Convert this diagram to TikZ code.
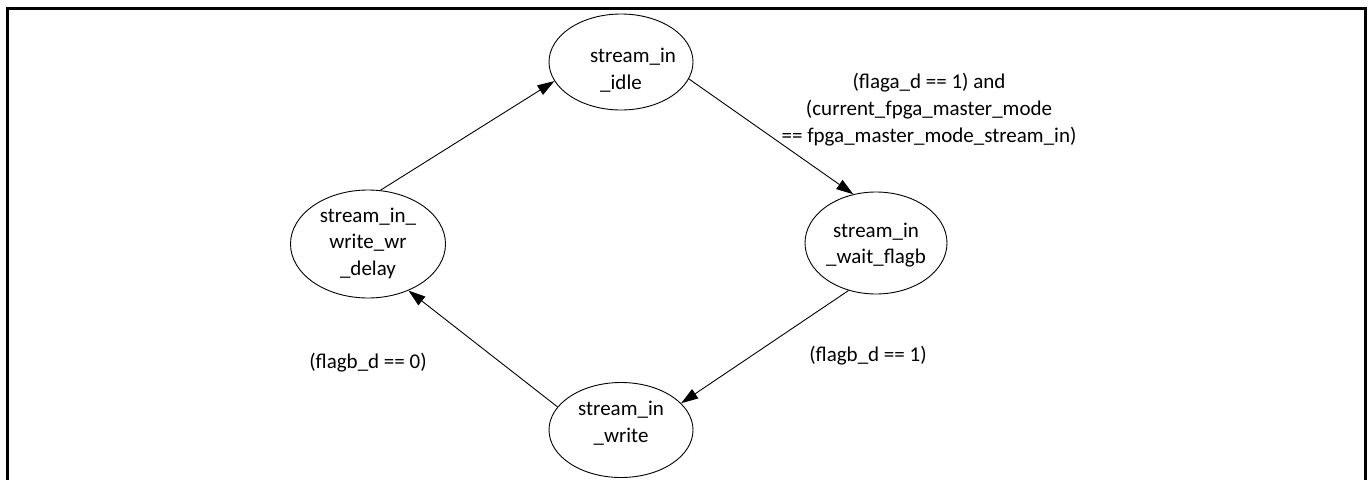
\documentclass[tikz,border=0pt]{standalone}
\usepackage{fontspec}
\setmainfont{Carlito}
\usetikzlibrary{arrows.meta,shapes.geometric}
\tikzset{
  state/.style={draw, ellipse, line width=0.9pt, inner sep=0pt},
  stxt/.style={font=\fontsize{21}{26.5}\selectfont, align=center, inner sep=0pt},
  lbl/.style={font=\fontsize{21}{27}\selectfont, align=center, inner sep=0pt},
  conn/.style={line width=0.9pt, -{Triangle[length=17pt,width=11pt]}},
  frame/.style={line width=3pt}
}
\begin{document}
\begin{tikzpicture}[x=1pt,y=-1pt]
\useasboundingbox (0,0) rectangle (1370,479);
\fill[white] (0,0) rectangle (1370,479);
\coordinate (fbl) at (7,482);
\coordinate (ftl) at (7,8);
\coordinate (ftr) at (1365.5,8);
\coordinate (fbr) at (1365.5,482);
\draw[frame] (fbl) -- (ftl) -- (ftr) -- (fbr);

\node[state, minimum width=144pt, minimum height=96pt] (idle) at (621,62) {};
\node[state, minimum width=142pt, minimum height=102pt] (wait) at (876,243) {};
\node[state, minimum width=155pt, minimum height=108pt] (wr) at (368,244) {};
\node[state, minimum width=144pt, minimum height=95pt] (write) at (621,430) {};

\node[stxt] (idlet) at (633,70) {stream\_in\\\_idle\hspace*{24pt}};
\node[stxt] (waitt) at (876,245) {stream\_in\\\_wait\_flagb};
\node[stxt] (wrt) at (368,243) {stream\_in\_\\write\_wr\\\_delay};
\node[stxt] (writet) at (621,423) {stream\_in\\\_write};

\node[lbl] (l1) at (929,110) {(flaga\_d == 1) and\\(current\_fpga\_master\_mode\\== fpga\_master\_mode\_stream\_in)};
\node[lbl] (l2) at (868,356) {(flagb\_d == 1)};
\node[lbl] (l3) at (368,363) {(flagb\_d == 0)};

\draw[conn] (wr.77) -- (idle.196);
\draw[conn] (idle.-14) -- (wait.115);
\draw[conn] (wait.-120) -- (write.24);
\draw[conn] (write.160) -- (wr.-49);
\end{tikzpicture}
\end{document}
